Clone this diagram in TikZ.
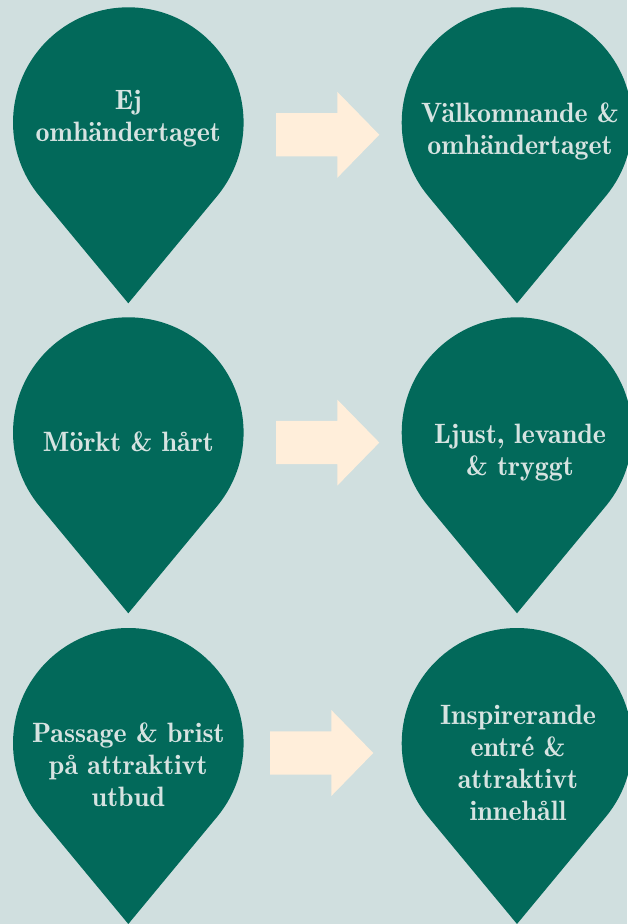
\documentclass[tikz,border=0pt]{standalone}
\usepackage{xcolor}
\usepackage{tikz}
\definecolor{bggrey}{HTML}{D0DFDF}
\definecolor{pingreen}{HTML}{02695A}
\definecolor{arrowcream}{HTML}{FFEEDA}
\definecolor{pintextgrey}{HTML}{D6E3E1}
\tikzstyle{pinbody} = [fill=pingreen]
\tikzstyle{bigarrow} = [fill=arrowcream]
\tikzstyle{pintext} = [text=pintextgrey, font=\fontsize{28}{32}\fontseries{b}\selectfont, align=center]
\newcommand{\pinshape}[2]{\fill[pinbody] (#1,#2) ++(-39.6:115.3) arc (-39.6:219.6:115.3) -- (#1,#2-180.7) -- cycle;}
\newcommand{\bigarrowshape}[2]{\fill[bigarrow] (#1,#2+21.6) -- ++(61.3,0) -- ++(0,21.4) -- ++(42,-43) -- ++(-42,-43) -- ++(0,21.4) -- ++(-61.3,0) -- cycle;}

\begin{document}
\begin{tikzpicture}[x=1pt, y=1pt]
    \fill[bggrey] (0,0) rectangle (627,924);
    \useasboundingbox (0,0) rectangle (627,924);

    % pins
    \pinshape{128.3}{801.4}
    \pinshape{517}{801.4}
    \pinshape{128.3}{491.4}
    \pinshape{517}{491.4}
    \pinshape{128.3}{180.7}
    \pinshape{517}{180.7}

    % arrows
    \bigarrowshape{276}{789.2}
    \bigarrowshape{276}{481.4}
    \bigarrowshape{270}{171}

    % texts
    \node (ejomh) [pintext] at (128.3,805) {Ej\\omhändertaget};
    \node (valkomnande) [pintext] at (520,793) {Välkomnande \&\\omhändertaget};
    \node (morkt) [pintext] at (128.3,482) {Mörkt \& hårt};
    \node (ljust) [pintext] at (520,471) {Ljust, levande\\\& tryggt};
    \node (passage) [pintext] at (128.3,159) {Passage \& brist\\på attraktivt\\utbud};
    \node (inspirerande) [pintext] at (518,161) {Inspirerande\\entré \&\\attraktivt\\innehåll};
\end{tikzpicture}
\end{document}
